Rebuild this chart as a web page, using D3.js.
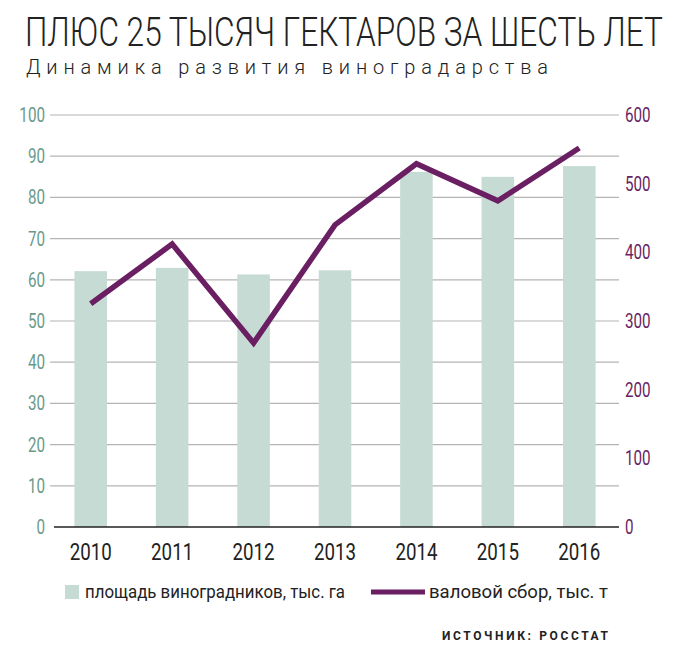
<!DOCTYPE html>
<html>
<head>
<meta charset="utf-8">
<script src="https://cdn.jsdelivr.net/npm/d3@7"></script>
<style>
  body { margin: 0; background: #fff; }
  svg text { font-family: Roboto, "Liberation Sans", sans-serif; }
</style>
</head>
<body>
<svg width="680" height="654"></svg>
<script>
// data
const years = ['2010', '2011', '2012', '2013', '2014', '2015', '2016'];
const area = [62.1, 62.9, 61.3, 62.3, 86.2, 85.0, 87.6];       // тыс. га
const harvest = [325, 412, 268, 440, 529, 475, 552];          // тыс. т
const leftTicks = [0, 10, 20, 30, 40, 50, 60, 70, 80, 90, 100];
const rightTicks = [0, 100, 200, 300, 400, 500, 600];

const barColor = '#c7dbd5';
const lineColor = '#6a1f63';
const leftColor = '#6a9a8c';

const svg = d3.select('svg');

// squeeze glyphs horizontally to fake a condensed face
function condense(sel, k) {
    sel.each(function () {
        const w = this.getComputedTextLength();
        d3.select(this)
            .attr('textLength', w * k)
            .attr('lengthAdjust', 'spacingAndGlyphs');
    });
}

const x = d3.scaleBand()
    .domain(years)
    .range([50, 620])
    .paddingInner(0.6)
    .paddingOuter(0.3);

const yL = d3.scaleLinear().domain([0, 100]).range([527, 115]);
const yR = d3.scaleLinear().domain([0, 600]).range([527, 115]);

/////////////////////////////
// TITLE
/////////////////////////////
const title = svg.append('text')
    .style('font-size', '41px').style('font-weight', 300).attr('fill', '#222')
    .text('ПЛЮС 25 ТЫСЯЧ ГЕКТАРОВ ЗА ШЕСТЬ ЛЕТ');
const tw = title.node().getComputedTextLength();
title.attr('transform', `translate(25,46) scale(${638 / tw},1)`);

svg.append('text')
    .attr('x', 26).attr('y', 74)
    .attr('textLength', 522)
    .style('font-size', '20px').style('font-weight', 300).attr('fill', '#222')
    .text('Динамика развития виноградарства');

/////////////////////////////
// GRID + AXES
/////////////////////////////
svg.append('g')
    .attr('class', 'grid')
    .selectAll('line')
    .data(leftTicks.slice(1))
    .enter()
    .append('line')
        .attr('x1', 50).attr('x2', 619)
        .attr('y1', d => yL(d)).attr('y2', d => yL(d))
        .attr('stroke', '#b4b4b4').attr('stroke-width', 1.2);

svg.append('g')
    .selectAll('text')
    .data(leftTicks)
    .enter()
    .append('text')
        .attr('x', 45).attr('y', d => yL(d) + 7)
        .attr('text-anchor', 'end')
        .style('font-size', '20px').attr('fill', leftColor)
        .text(d => d)
        .call(condense, 0.76);

svg.append('g')
    .selectAll('text')
    .data(rightTicks)
    .enter()
    .append('text')
        .attr('x', 625).attr('y', d => yR(d) + 7)
        .style('font-size', '20px').attr('fill', lineColor)
        .text(d => d)
        .call(condense, 0.76);

/////////////////////////////
// BARS
/////////////////////////////
svg.append('g')
    .attr('class', 'bars')
    .selectAll('rect')
    .data(area)
    .enter()
    .append('rect')
        .attr('x', (d, i) => x(years[i]))
        .attr('width', x.bandwidth())
        .attr('y', d => yL(d))
        .attr('height', d => yL(0) - yL(d))
        .attr('fill', barColor);

svg.append('line')
    .attr('x1', 54).attr('x2', 619)
    .attr('y1', yL(0)).attr('y2', yL(0))
    .attr('stroke', '#222').attr('stroke-width', 1.5);

svg.append('g')
    .selectAll('text')
    .data(years)
    .enter()
    .append('text')
        .attr('x', d => x(d) + x.bandwidth() / 2)
        .attr('y', 560)
        .attr('text-anchor', 'middle')
        .style('font-size', '24px').attr('fill', '#222')
        .text(d => d)
        .call(condense, 0.78);

/////////////////////////////
// LINE
/////////////////////////////
const line = d3.line()
    .x((d, i) => x(years[i]) + x.bandwidth() / 2)
    .y(d => yR(d));

svg.append('path')
    .datum(harvest)
    .attr('d', line)
    .attr('fill', 'none')
    .attr('stroke', lineColor)
    .attr('stroke-width', 5.5)
    .attr('stroke-linejoin', 'miter');

/////////////////////////////
// LEGEND
/////////////////////////////
const legend = svg.append('g').attr('class', 'legend');
legend.append('rect')
    .attr('x', 65).attr('y', 585).attr('width', 14).attr('height', 14)
    .attr('fill', barColor);
legend.append('text')
    .attr('x', 85).attr('y', 598)
    .attr('textLength', 260).attr('lengthAdjust', 'spacingAndGlyphs')
    .style('font-size', '19px').attr('fill', '#222')
    .text('площадь виноградников, тыс. га');
legend.append('line')
    .attr('x1', 371).attr('x2', 425).attr('y1', 592).attr('y2', 592)
    .attr('stroke', lineColor).attr('stroke-width', 5);
legend.append('text')
    .attr('x', 429).attr('y', 598)
    .attr('textLength', 179).attr('lengthAdjust', 'spacingAndGlyphs')
    .style('font-size', '19px').attr('fill', '#222')
    .text('валовой сбор, тыс. т');

svg.append('text')
    .attr('x', 442).attr('y', 640)
    .attr('textLength', 166)
    .style('font-size', '12px').style('font-weight', 'bold').attr('fill', '#222')
    .text('ИСТОЧНИК: РОССТАТ');
</script>
</body>
</html>
